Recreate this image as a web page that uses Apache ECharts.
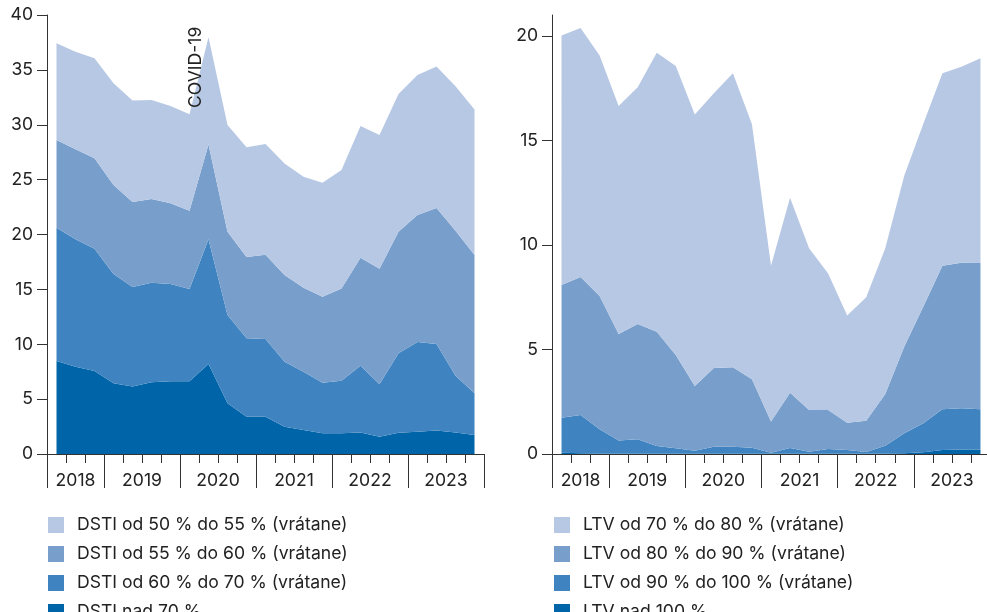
<!DOCTYPE html>
<html>
<head>
<meta charset="utf-8">
<script src="https://cdn.jsdelivr.net/npm/echarts@6/dist/echarts.min.js"></script>
<style>
html,body{margin:0;padding:0;background:#fff;}
#c{width:987px;height:612px;}
</style>
</head>
<body>
<div id="c"></div>
<script>
// Quarterly categories: 2018 Q2 .. 2023 Q4
const quarters = [
  '2018 Q2','2018 Q3','2018 Q4',
  '2019 Q1','2019 Q2','2019 Q3','2019 Q4',
  '2020 Q1','2020 Q2','2020 Q3','2020 Q4',
  '2021 Q1','2021 Q2','2021 Q3','2021 Q4',
  '2022 Q1','2022 Q2','2022 Q3','2022 Q4',
  '2023 Q1','2023 Q2','2023 Q3','2023 Q4'
];
const yearLabels = ['2018','2019','2020','2021','2022','2023'];

// Left panel (DSTI)
const dstiNames = [
  'DSTI od 50 % do 55 % (vrátane)',
  'DSTI od 55 % do 60 % (vrátane)',
  'DSTI od 60 % do 70 % (vrátane)',
  'DSTI nad 70 %'
];
const dstiOver70 = [8.47,7.96,7.56,6.44,6.16,6.53,6.62,6.62,8.20,4.62,3.40,3.40,2.49,2.19,1.88,1.88,1.97,1.58,1.94,2.03,2.13,1.97,1.73];
const dsti60to70 = [12.15,11.60,11.15,9.96,9.05,9.08,8.87,8.41,11.36,8.04,7.14,7.08,5.92,5.31,4.62,4.80,6.08,4.77,7.23,8.17,7.89,5.17,3.80];
const dsti55to60 = [7.99,8.20,8.23,8.11,7.75,7.62,7.35,7.14,8.65,7.60,7.41,7.68,7.90,7.65,7.83,8.41,9.84,10.53,11.09,11.57,12.39,13.21,12.60];
const dsti50to55 = [8.81,8.90,9.11,9.26,9.24,9.03,8.86,8.78,9.76,9.72,9.99,10.09,10.17,10.12,10.39,10.79,12.00,12.19,12.54,12.76,12.89,13.15,13.27];

// Right panel (LTV)
const ltvNames = [
  'LTV od 70 % do 80 % (vrátane)',
  'LTV od 80 % do 90 % (vrátane)',
  'LTV od 90 % do 100 % (vrátane)',
  'LTV nad 100 %'
];
const ltvOver100 = [0.06,0.04,0.02,0.02,0.01,0.01,0.01,0.01,0.01,0.01,0.01,0.01,0.01,0.01,0.01,0.01,0.01,0.02,0.03,0.08,0.19,0.22,0.21];
const ltv90to100 = [1.68,1.83,1.16,0.62,0.69,0.37,0.26,0.15,0.34,0.34,0.29,0.05,0.28,0.10,0.23,0.18,0.09,0.38,0.96,1.39,1.95,1.97,1.93];
const ltv80to90 = [6.35,6.60,6.38,5.10,5.52,5.47,4.47,3.09,3.76,3.80,3.27,1.49,2.64,2.00,1.87,1.31,1.49,2.47,4.15,5.58,6.86,6.96,7.00];
const ltv70to80 = [11.93,11.91,11.50,10.91,11.32,13.35,13.82,12.99,13.15,14.06,12.20,7.45,9.33,7.73,6.53,5.12,5.91,6.97,8.18,8.75,9.21,9.38,9.79];

const leftTicks = [0,5,10,15,20,25,30,35,40];
const rightTicks = [0,5,10,15,20];
const annotation = 'COVID-19';

const colors = ['#b7c8e4','#789fcc','#3f84c0','#0064a8']; // top -> bottom
const FONT = 'Inter';
const FS = 17.6;
const TXT = '#222222';
const AX = '#333333';

const yearStartIdx = quarters.map((q,i)=> (i===0 || q.endsWith('Q1')) ? i : -1).filter(i=>i>=0);
function labelIdx(i){
  const q = quarters[i];
  if (i === 1) return true;              // center of 2018 (3 quarters)
  return i > 2 && q.endsWith('Q2');      // between Q2 and Q3 of full years
}
function yearOf(v){ return v.slice(0,4); }

function xAxesFor(gridIndex){
  return [
    {
      type:'category', gridIndex, data: quarters, boundaryGap:true,
      axisLine:{show:true, lineStyle:{color:AX, width:1}},
      axisTick:{show:true, interval:0, length:9, lineStyle:{color:AX, width:1}},
      axisLabel:{show:false}, splitLine:{show:false}
    },
    {
      type:'category', gridIndex, data: quarters, boundaryGap:true, position:'bottom',
      axisLine:{show:false},
      axisTick:{show:true, interval:(i)=>yearStartIdx.indexOf(i)>=0, length:34, lineStyle:{color:AX, width:1}},
      axisLabel:{
        show:true, interval:(i)=>labelIdx(i), margin:18,
        fontFamily:FONT, fontSize:FS, color:TXT,
        formatter:(v, i)=>{
          const y = yearOf(v);
          if (yearLabels.indexOf(y) < 0) return '';
          return (y === yearLabels[0]) ? '{a|' + y + '}' : '{b|' + y + '}';
        },
        rich:{
          a:{fontFamily:FONT, fontSize:FS, color:TXT},
          b:{fontFamily:FONT, fontSize:FS, color:TXT, padding:[0,0,0,19]}
        }
      },
      splitLine:{show:false}
    }
  ];
}

function yAxisFor(gridIndex, max, ticks){
  return {
    type:'value', gridIndex, min:0, max, interval:5,
    axisLine:{show:true, lineStyle:{color:AX, width:1}},
    axisTick:{show:true, length:10, customValues:ticks, lineStyle:{color:AX, width:1}},
    axisLabel:{show:true, margin:14, customValues:ticks, fontFamily:FONT, fontSize:FS, color:TXT},
    splitLine:{show:false}
  };
}

function areaSeries(name, data, color, stack, xIdx, yIdx){
  return {
    name, type:'line', data, stack, xAxisIndex:xIdx, yAxisIndex:yIdx,
    symbol:'none', showSymbol:false, smooth:false,
    lineStyle:{width:0, color}, itemStyle:{color},
    areaStyle:{color, opacity:1},
    emphasis:{disabled:true}, silent:true
  };
}

function legendFor(names, left){
  return {
    data: names, left, top:516, height:140, orient:'vertical', padding:0,
    itemWidth:16, itemHeight:16, itemGap:11, icon:'rect', selectedMode:false,
    textStyle:{fontFamily:FONT, fontSize:FS, color:TXT, lineHeight:16, padding:[0,0,0,8]}
  };
}

const chart = echarts.init(document.getElementById('c'), null, {renderer:'canvas'});
const option = {
  animation:false,
  backgroundColor:'#ffffff',
  textStyle:{fontFamily:FONT},
  grid:[
    {left:47, top:15, width:437, height:439, outerBoundsMode:'none', containLabel:false},
    {left:552, top:15, width:438, height:439, outerBoundsMode:'none', containLabel:false}
  ],
  xAxis:[...xAxesFor(0), ...xAxesFor(1)],
  yAxis:[yAxisFor(0, 40, leftTicks), yAxisFor(1, 21, rightTicks)],
  legend:[legendFor(dstiNames, 48), legendFor(ltvNames, 554)],
  series:[
    areaSeries(dstiNames[3], dstiOver70, colors[3], 'L', 0, 0),
    areaSeries(dstiNames[2], dsti60to70, colors[2], 'L', 0, 0),
    areaSeries(dstiNames[1], dsti55to60, colors[1], 'L', 0, 0),
    areaSeries(dstiNames[0], dsti50to55, colors[0], 'L', 0, 0),
    areaSeries(ltvNames[3], ltvOver100, colors[3], 'R', 2, 1),
    areaSeries(ltvNames[2], ltv90to100, colors[2], 'R', 2, 1),
    areaSeries(ltvNames[1], ltv80to90, colors[1], 'R', 2, 1),
    areaSeries(ltvNames[0], ltv70to80, colors[0], 'R', 2, 1)
  ],
  graphic:[
    {
      type:'text', x:196, y:108, rotation:Math.PI/2, silent:true, z:100,
      style:{text:annotation, fontFamily:FONT, fontSize:FS, fill:TXT, align:'left', verticalAlign:'middle'}
    }
  ]
};
chart.setOption(option);
</script>
</body>
</html>
